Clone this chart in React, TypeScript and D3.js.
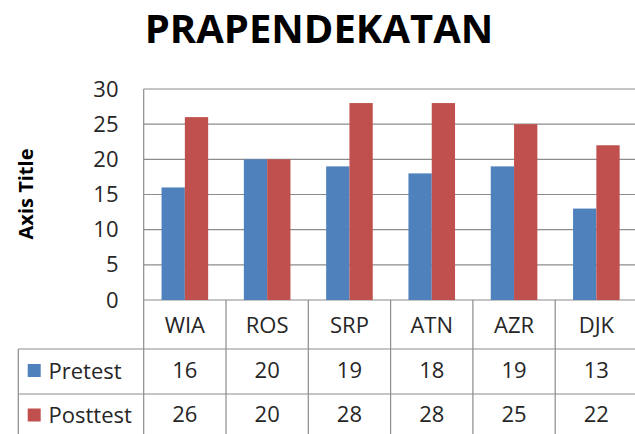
import React from "react";
import * as d3 from "d3";

const title = "PRAPENDEKATAN";
const axisTitle = "Axis Title";
const categories = ["WIA", "ROS", "SRP", "ATN", "AZR", "DJK"];
const seriesNames = ["Pretest", "Posttest"];
const pretest = [16, 20, 19, 18, 19, 13];
const posttest = [26, 20, 28, 28, 25, 22];
const yTicks = [0, 5, 10, 15, 20, 25, 30];
const colors = ["#4F81BD", "#C0504D"];

const W = 635;
const H = 434;
const FONT = "'Open Sans', sans-serif";
const GRID = "#8c8c8c";

export default function App() {
  const seriesValues = [pretest, posttest];
  const plotLeft = 143.7;
  const plotRight = 637.5;
  const plotTop = 89;
  const plotBottom = 300;
  const headerBottom = 349;
  const row1Bottom = 394;
  const tableBottom = 438;
  const legendLeft = 18.3;

  const x = d3.scaleBand<string>().domain(categories).range([plotLeft, plotRight]).padding(0);
  const xs = d3
    .scaleBand<string>()
    .domain(seriesNames)
    .range([0, x.bandwidth()])
    .paddingInner(0)
    .paddingOuter(0.766);
  const y = d3.scaleLinear().domain([0, 30]).range([plotBottom, plotTop]);

  const rowMids = [(headerBottom + row1Bottom) / 2, (row1Bottom + tableBottom) / 2];

  return (
    <svg
      width={W}
      height={H}
      style={{ position: "absolute", left: 0, top: 0, display: "block", background: "#fff" }}
    >
      <rect x={0} y={0} width={W} height={H} fill="#fff" />
      {/* title */}
      <text
        x={319}
        y={42.5}
        textAnchor="middle"
        fontFamily={FONT}
        fontWeight="bold"
        fontSize={40}
        fill="#000"
      >
        {title}
      </text>
      {/* axis title */}
      <text
        transform={`translate(33,194) rotate(-90)`}
        textAnchor="middle"
        fontFamily={FONT}
        fontWeight="bold"
        fontSize={20}
        fill="#000"
      >
        {axisTitle}
      </text>
      {/* gridlines & tick labels */}
      {yTicks.map((t) => (
        <g key={t}>
          <line x1={plotLeft} x2={W} y1={y(t)} y2={y(t)} stroke={GRID} strokeWidth={1.2} />
          <text
            x={118.5}
            y={y(t) + 7.5}
            textAnchor="end"
            fontFamily={FONT}
            fontSize={22}
            fill="#262626"
          >
            {t}
          </text>
        </g>
      ))}
      {/* bars */}
      {categories.map((c, i) =>
        seriesNames.map((s, j) => (
          <rect
            key={c + s}
            x={(x(c) as number) + (xs(s) as number)}
            y={y(seriesValues[j][i])}
            width={xs.bandwidth()}
            height={y(0) - y(seriesValues[j][i])}
            fill={colors[j]}
          />
        ))
      )}
      {/* vertical axis line */}
      <line x1={plotLeft} x2={plotLeft} y1={plotTop} y2={tableBottom} stroke={GRID} strokeWidth={1.2} />
      {/* table lines */}
      {categories.map((c, i) =>
        i > 0 ? (
          <line
            key={"v" + c}
            x1={x(c)}
            x2={x(c)}
            y1={plotBottom}
            y2={tableBottom}
            stroke={GRID}
            strokeWidth={1.2}
          />
        ) : null
      )}
      <line x1={legendLeft} x2={W} y1={headerBottom} y2={headerBottom} stroke={GRID} strokeWidth={1.2} />
      <line x1={legendLeft} x2={W} y1={row1Bottom} y2={row1Bottom} stroke={GRID} strokeWidth={1.2} />
      <line x1={legendLeft} x2={legendLeft} y1={headerBottom} y2={tableBottom} stroke={GRID} strokeWidth={1.2} />
      {/* header */}
      {categories.map((c) => (
        <text
          key={"h" + c}
          x={(x(c) as number) + x.bandwidth() / 2}
          y={(plotBottom + headerBottom) / 2 + 8}
          textAnchor="middle"
          fontFamily={FONT}
          fontSize={22}
          fill="#262626"
        >
          {c}
        </text>
      ))}
      {/* rows */}
      {seriesNames.map((s, j) => (
        <g key={"r" + s}>
          <rect x={27.7} y={rowMids[j] - 7.5} width={13} height={13} fill={colors[j]} />
          <text x={48.5} y={rowMids[j] + 7} fontFamily={FONT} fontSize={22} fill="#262626">
            {s}
          </text>
          {categories.map((c, i) => (
            <text
              key={s + c}
              x={(x(c) as number) + x.bandwidth() / 2}
              y={rowMids[j] + 6}
              textAnchor="middle"
              fontFamily={FONT}
              fontSize={22}
              fill="#262626"
            >
              {seriesValues[j][i]}
            </text>
          ))}
        </g>
      ))}
    </svg>
  );
}
